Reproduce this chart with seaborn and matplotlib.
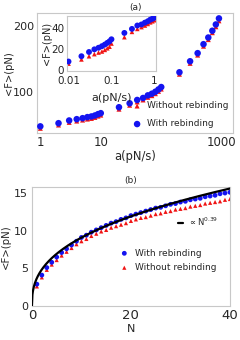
import numpy as np
import pandas as pd
import matplotlib
matplotlib.use("Agg")
import matplotlib.pyplot as plt
import seaborn as sns
from matplotlib.ticker import FixedLocator, NullLocator

sns.set_style("white")
plt.rcParams['font.family'] = ['DejaVu Sans']

# panel (a): loading rate vs mean rupture force
rate = [1, 2, 3, 4, 5, 6, 7, 8, 9, 10,
        20, 30, 40, 50, 60, 70, 80, 90, 100,
        200, 300, 400, 500, 600, 700, 800, 900]
force_with = [48, 52.8, 56.9, 58.9, 60.4, 62, 63, 64.5, 66.5, 68,
              77, 83, 88, 91, 95, 97.5, 100.5, 104, 107.6,
              130, 146.7, 159, 172.6, 182.7, 193, 202.5, 211.7]
force_without = [45, 50, 54, 56, 57.5, 59, 60, 61.5, 63.5, 65,
                 74, 80, 85, 88, 92, 94.5, 97.5, 101, 104.5,
                 127, 143.5, 156, 169.5, 179.5, 190, 199, 208]

# inset: low loading rates
rate_low = [0.01, 0.02, 0.03, 0.04, 0.05, 0.06, 0.07, 0.08, 0.09, 0.1,
            0.2, 0.3, 0.4, 0.5, 0.6, 0.7, 0.8, 0.9, 1.0]
low_with = [8, 13, 17, 19.5, 21, 22.5, 24, 25.6, 27, 29,
            35, 38.8, 42, 43, 44.7, 46, 47.5, 48.4, 49.4]
low_without = [6, 10, 13, 15, 16.5, 17.5, 19, 20.5, 22, 25,
               31, 36, 38.8, 40.5, 42, 43.5, 45, 46, 47]

# panel (b): force vs number of bonds
N = list(range(1, 41))
fb_with = [2.9, 4.1, 5.1, 5.8, 6.5, 7.1, 7.6, 8.1, 8.6, 9.1,
           9.4, 9.8, 10.1, 10.4, 10.7, 11.0, 11.2, 11.5, 11.7, 12.0,
           12.2, 12.4, 12.6, 12.8, 13.0, 13.1, 13.3, 13.5, 13.6, 13.8,
           13.9, 14.1, 14.2, 14.3, 14.5, 14.6, 14.7, 14.9, 15.0, 15.1]
fb_without = [2.6, 3.8, 4.8, 5.5, 6.1, 6.7, 7.2, 7.7, 8.2, 8.6,
              8.9, 9.3, 9.6, 9.9, 10.1, 10.4, 10.6, 10.8, 11.0, 11.3,
              11.5, 11.7, 11.8, 12.0, 12.2, 12.3, 12.5, 12.6, 12.8, 12.9,
              13.0, 13.2, 13.3, 13.4, 13.6, 13.7, 13.8, 13.9, 14.1, 14.2]
fit_exp = 0.39
fit_pref = 3.7

BLUE = '#1414f0'
RED = '#f01414'
FRAME = '#c8c8c8'

fig = plt.figure(figsize=(2.4, 3.4), dpi=100)

def style_frame(ax):
    for s in ax.spines.values():
        s.set_color(FRAME)
        s.set_linewidth(0.8)
    ax.tick_params(length=0, pad=2)

# ---- panel (a) ----
ax1 = fig.add_axes([0.154, 0.609, 0.817, 0.353])
sns.scatterplot(x=rate, y=force_without, ax=ax1, color=RED, marker='^', s=13,
                edgecolor='none', label='Without rebinding', zorder=2)
sns.scatterplot(x=rate, y=force_with, ax=ax1, color=BLUE, marker='o', s=22,
                edgecolor='none', label='With rebinding', zorder=3)
ax1.set_xscale('log')
ax1.set_xlim(0.88, 1540)
ax1.set_ylim(38, 220)
ax1.xaxis.set_major_locator(FixedLocator([1, 10, 1000]))
ax1.xaxis.set_minor_locator(NullLocator())
ax1.set_xticklabels(['1', '10', '1000'])
ax1.set_yticks([100, 200])
style_frame(ax1)
ax1.tick_params(axis='x', labelsize=8.5)
ax1.tick_params(axis='y', labelsize=8)
ax1.set_xlabel('a(pN/s)', fontsize=8.3, labelpad=1)
ax1.set_ylabel('<F>(pN)', fontsize=7.2)
ax1.yaxis.set_label_coords(-0.117, 0.5)
ax1.set_title('(a)', fontsize=6.5, pad=2)
ax1.legend(loc='lower right', frameon=False, fontsize=6.5, handletextpad=0.1,
           borderaxespad=0.1, labelspacing=1.0, markerscale=1.0)

# inset
ax_in = fig.add_axes([0.279, 0.791, 0.371, 0.162])
sns.scatterplot(x=rate_low, y=low_without, ax=ax_in, color=RED, marker='^', s=11,
                edgecolor='none', legend=False, zorder=2)
sns.scatterplot(x=rate_low, y=low_with, ax=ax_in, color=BLUE, marker='o', s=18,
                edgecolor='none', legend=False, zorder=3)
ax_in.set_xscale('log')
ax_in.set_xlim(0.0092, 1.09)
ax_in.set_ylim(-1, 51)
ax_in.xaxis.set_major_locator(FixedLocator([0.01, 0.1, 1]))
ax_in.xaxis.set_minor_locator(NullLocator())
ax_in.set_xticklabels(['0.01', '0.1', '1'])
ax_in.set_yticks([0, 20, 40])
style_frame(ax_in)
ax_in.tick_params(labelsize=7.5)
ax_in.tick_params(axis='x', pad=3.5)
ax_in.set_xlabel('a(pN/s)', fontsize=8)
ax_in.xaxis.set_label_coords(0.5, -0.4)
ax_in.set_ylabel('<F>(pN)', fontsize=7)
ax_in.yaxis.set_label_coords(-0.17, 0.5)

# ---- panel (b) ----
ax2 = fig.add_axes([0.133, 0.1, 0.825, 0.35])
n_fit = np.linspace(0, 40, 400)
sns.lineplot(x=n_fit, y=fit_pref * n_fit ** fit_exp, ax=ax2, color='black',
             lw=1.6, label=r'$\propto$N$^{0.39}$', zorder=4)
sns.scatterplot(x=N, y=fb_without, ax=ax2, color=RED, marker='^', s=9,
                edgecolor='none', label='Without rebinding', zorder=2)
sns.scatterplot(x=N, y=fb_with, ax=ax2, color=BLUE, marker='o', s=12,
                edgecolor='none', label='With rebinding', zorder=3)
ax2.set_xlim(0, 40)
ax2.set_ylim(0, 15.8)
ax2.set_xticks([0, 20, 40])
ax2.set_yticks([0, 5, 10, 15])
style_frame(ax2)
ax2.tick_params(axis='x', labelsize=9.5, pad=2.5)
ax2.tick_params(axis='y', labelsize=8, pad=3)
ax2.set_xlabel('N', fontsize=8, labelpad=1)
ax2.set_ylabel('<F>(pN)', fontsize=7.3, labelpad=2)
ax2.set_title('(b)', fontsize=6.5, pad=3)
ax2.get_legend().remove()

h, l = ax2.get_legend_handles_labels()
leg_fit = ax2.legend([h[0]], [l[0]], loc='upper right', frameon=False,
                     fontsize=6, handlelength=0.6, handletextpad=0.6,
                     bbox_to_anchor=(0.98, 0.82))
ax2.add_artist(leg_fit)
ax2.legend([h[2], h[1]], [l[2], l[1]], loc='upper left', frameon=False,
           fontsize=6.5, handletextpad=0.2, labelspacing=0.6,
           bbox_to_anchor=(0.38, 0.55))

fig.savefig('out.png', dpi=100)
